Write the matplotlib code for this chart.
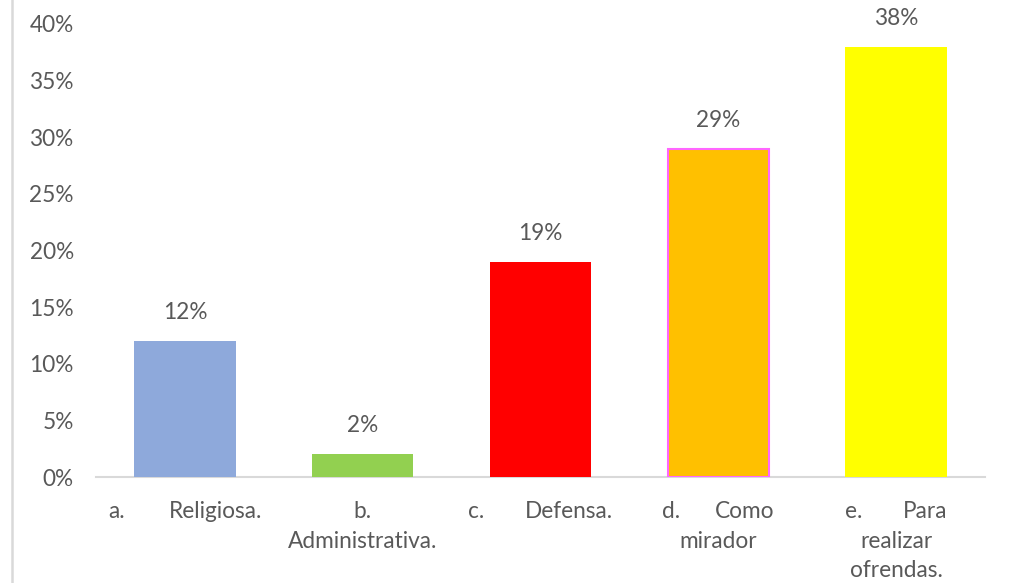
import matplotlib
matplotlib.use("Agg")
import matplotlib.pyplot as plt
from matplotlib.lines import Line2D

plt.rcParams['font.family'] = ['Lato', 'DejaVu Sans']

# ---- data ----
prefixes = ["a.", "b.", "c.", "d.", "e."]
names = ["Religiosa.", "Administrativa.", "Defensa.", "Como mirador", "Para realizar ofrendas."]
values = [12, 2, 19, 29, 38]
value_labels = ["12%", "2%", "19%", "29%", "38%"]
yticks = [0, 5, 10, 15, 20, 25, 30, 35, 40]
ytick_labels = ["0%", "5%", "10%", "15%", "20%", "25%", "30%", "35%", "40%"]

# ---- style ----
colors = ["#8EA9DB", "#92D050", "#FF0000", "#FFC000", "#FFFF00"]
edges = ["#8EA9DB", "#92D050", "#FF0000", "#FF66FF", "#FFFF00"]
edge_w = [0, 0, 0, 1.5, 0]
text_color = "#595959"
fs = 16.3
# label line layout: first line justified (prefix ... word) or centered
layouts = [
    [("j", "a.", "Religiosa.")],
    [("c", "b."), ("c", "Administrativa.")],
    [("j", "c.", "Defensa.")],
    [("j", "d.", "Como"), ("c", "mirador")],
    [("j", "e.", "Para"), ("c", "realizar"), ("c", "ofrendas.")],
]
half_widths = [0.433, 0.433, 0.405, 0.315, 0.287]

fig = plt.figure(figsize=(10.11, 5.83), dpi=100)
ax = fig.add_axes([96/1011, 1 - 477/583, (985-96)/1011, (477-24)/583])

x = list(range(len(values)))
bars = ax.bar(x, values, width=0.57, color=colors, edgecolor=edges, linewidth=edge_w, zorder=3)

for xi, v, lab in zip(x, values, value_labels):
    ax.annotate(lab, (xi, v), xytext=(0, 20.5), textcoords="offset points",
                ha="center", va="center", fontsize=fs, color=text_color,
                annotation_clip=False)

ax.set_xlim(-0.5, len(values) - 0.5)
ax.set_ylim(0, 40)
ax.set_yticks(yticks)
ax.set_yticklabels(ytick_labels, fontsize=fs, color=text_color)
ax.tick_params(axis="y", length=0, pad=16)
ax.set_xticks(x)
ax.set_xticklabels([""] * len(x))
ax.tick_params(axis="x", length=0)

for s in ["top", "right", "left"]:
    ax.spines[s].set_visible(False)
ax.spines["bottom"].set_color("#D9D9D9")
ax.spines["bottom"].set_linewidth(1.5)

trans = ax.get_xaxis_transform()
line_y = [-0.0755, -0.1425, -0.2055]
for xi, lay, half in zip(x, layouts, half_widths):
    for li, item in enumerate(lay):
        yy = line_y[li]
        if item[0] == "j":
            ax.text(xi - half, yy, item[1], transform=trans, ha="left", va="center",
                    fontsize=fs, color=text_color)
            ax.text(xi + half, yy, item[2], transform=trans, ha="right", va="center",
                    fontsize=fs, color=text_color)
        else:
            ax.text(xi, yy, item[1], transform=trans, ha="center", va="center",
                    fontsize=fs, color=text_color)

fig.add_artist(Line2D([12/1011, 12/1011], [0, 1], transform=fig.transFigure,
                      color="#D9D9D9", linewidth=1.8))

fig.savefig("out.png", dpi=100)
